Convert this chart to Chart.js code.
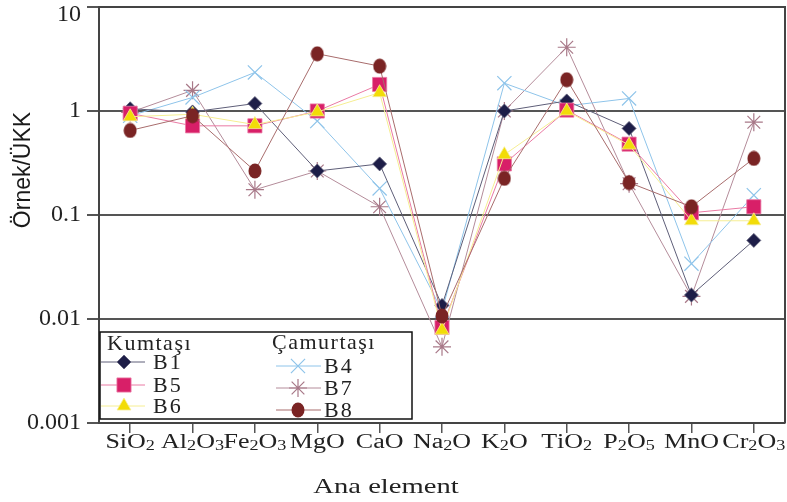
<!DOCTYPE html>
<html>
<head>
<meta charset="utf-8">
<script src="https://cdn.jsdelivr.net/npm/chart.js@4/dist/chart.umd.min.js"></script>
<style>
  html, body { margin: 0; padding: 0; background: #fff; }
  #wrap { width: 787px; height: 502px; }
</style>
</head>
<body>
<div id="wrap"><canvas id="chart" width="787" height="502"></canvas></div>
<script>
// ---- data ----
const categories = ['SiO₂', 'Al₂O₃', 'Fe₂O₃', 'MgO', 'CaO', 'Na₂O', 'K₂O', 'TiO₂', 'P₂O₅', 'MnO', 'Cr₂O₃'];
const yTicks = [0.001, 0.01, 0.1, 1, 10];

// Kumtaşı
const b1 = [1.05, 0.98, 1.18, 0.265, 0.31, 0.0135, 1.0, 1.25, 0.68, 0.017, 0.057];
const b5 = [0.95, 0.72, 0.72, 1.0, 1.8, 0.0083, 0.31, 1.02, 0.48, 0.105, 0.12];
const b6 = [0.88, 0.93, 0.74, 0.98, 1.5, 0.0078, 0.38, 1.0, 0.47, 0.088, 0.088];
// Çamurtaşı
const b4 = [0.9, 1.35, 2.35, 0.8, 0.18, 0.012, 1.85, 1.12, 1.32, 0.034, 0.155];
const b7 = [0.97, 1.58, 0.175, 0.265, 0.12, 0.0054, 1.0, 4.1, 0.2, 0.0165, 0.78];
const b8 = [0.65, 0.9, 0.265, 3.55, 2.7, 0.0107, 0.225, 2.0, 0.205, 0.12, 0.35];

const SERIF = '"Liberation Serif", "Times New Roman", serif';
const SANS = '"Liberation Sans", Arial, sans-serif';

// markers may hang over the frame like in the source, so no extra padding for them
Chart.LineController.prototype.getMaxOverflow = function () { return 0; };

// B8 uses a slightly tall oval marker
function ovalMarker(w, h, fill) {
  const c = document.createElement('canvas');
  c.width = w; c.height = h;
  const g = c.getContext('2d');
  g.fillStyle = fill;
  g.beginPath();
  g.ellipse(w / 2, h / 2, w / 2 - 0.5, h / 2 - 0.5, 0, 0, Math.PI * 2);
  g.fill();
  return c;
}
const oval = ovalMarker(14, 16, '#7a2424');

function series(label, data, line, marker, style, radius, order, group) {
  const thin = style === 'crossRot' || style === 'star';
  return {
    label, data, group,
    borderColor: line,
    backgroundColor: marker,
    borderWidth: 1,
    pointStyle: style,
    pointRadius: radius,
    pointHoverRadius: radius,
    pointBorderColor: thin ? marker : line,
    pointBorderWidth: thin ? 1.2 : 0.8,
    pointBackgroundColor: marker,
    tension: 0,
    clip: false,
    order
  };
}

const datasets = [
  series('B1', b1, '#5e5e78', '#1e1e48', 'rectRot', 7, 4, 0),
  series('B5', b5, '#ea7aa4', '#d81f68', 'rect', 10, 3, 0),
  series('B6', b6, '#f6ee92', '#f2dc08', 'triangle', 8, 2, 0),
  series('B4', b4, '#8ec4ea', '#8ec4ea', 'crossRot', 10, 5, 1),
  series('B7', b7, '#b48c9a', '#a87888', 'star', 9, 6, 1),
  series('B8', b8, '#a86c6c', '#7a2424', oval, 8, 1, 1)
];

// text with real subscript digits, stretched horizontally like the source
function drawChem(ctx, text, cx, baseY, size, sx, font) {
  const parts = [...text].map(ch => {
    const code = ch.charCodeAt(0);
    if (code >= 0x2080 && code <= 0x2089) return { t: String(code - 0x2080), sub: true };
    return { t: ch, sub: false };
  });
  let w = 0;
  parts.forEach(p => {
    ctx.font = (p.sub ? Math.round(size * 0.72) : size) + 'px ' + font;
    p.w = ctx.measureText(p.t).width;
    w += p.w;
  });
  ctx.save();
  ctx.translate(cx - (w * sx) / 2, baseY);
  ctx.scale(sx, 1);
  let x = 0;
  parts.forEach(p => {
    ctx.font = (p.sub ? Math.round(size * 0.72) : size) + 'px ' + font;
    ctx.fillText(p.t, x, p.sub ? size * 0.08 : 0);
    x += p.w;
  });
  ctx.restore();
}

const decorations = {
  id: 'decorations',
  beforeDatasetsDraw(chart) {
    const { ctx, chartArea: a } = chart;
    ctx.save();
    ctx.strokeStyle = '#444';
    ctx.lineWidth = 2;
    ctx.beginPath();
    ctx.moveTo(a.left, a.top);
    ctx.lineTo(a.right, a.top);
    ctx.lineTo(a.right, a.bottom);
    ctx.stroke();
    ctx.restore();
  },
  afterDraw(chart) {
    const { ctx } = chart;
    const xs = chart.scales.x;
    const ys = chart.scales.y;
    ctx.save();
    ctx.fillStyle = '#222';
    ctx.textAlign = 'left';
    ctx.textBaseline = 'alphabetic';

    // category labels
    categories.forEach((c, i) => {
      drawChem(ctx, c, xs.getPixelForValue(i), 448, 20, 1.3, SERIF);
    });
    // x title
    drawChem(ctx, 'Ana element', 386, 493, 22, 1.3, SERIF);

    // y tick labels (kept inside the canvas at the ends)
    ctx.save();
    ctx.textAlign = 'right';
    ctx.textBaseline = 'middle';
    ctx.font = '24px ' + SERIF;
    yTicks.forEach(v => {
      const py = Math.min(Math.max(ys.getPixelForValue(v), 15), 427);
      ctx.fillText(String(v), 81, py);
    });
    ctx.restore();

    // y title
    ctx.save();
    ctx.translate(30, 170);
    ctx.rotate(-Math.PI / 2);
    ctx.textAlign = 'center';
    ctx.font = '23px ' + SANS;
    ctx.fillStyle = '#1a1a1a';
    ctx.fillText('Örnek/ÜKK', 0, 0);
    ctx.restore();

    // legend box
    const L = { x: 100, y: 332, w: 312, h: 87 };
    ctx.fillStyle = '#fff';
    ctx.fillRect(L.x, L.y, L.w, L.h);
    ctx.strokeStyle = '#111';
    ctx.lineWidth = 1.5;
    ctx.strokeRect(L.x, L.y, L.w, L.h);

    ctx.fillStyle = '#222';
    ctx.textBaseline = 'alphabetic';
    ctx.font = '22px ' + SERIF;
    if ('letterSpacing' in ctx) ctx.letterSpacing = '1.5px';
    ctx.fillText('Kumtaşı', 107, 350);
    ctx.fillText('Çamurtaşı', 272, 349);
    if ('letterSpacing' in ctx) ctx.letterSpacing = '2px';

    const cols = [
      { x0: 101, x1: 145, mx: 124, tx: 153, ys: [362, 385, 406] },
      { x0: 276, x1: 321, mx: 298, tx: 324, ys: [366, 388, 410] }
    ];
    [0, 1].forEach(g => {
      const col = cols[g];
      datasets.filter(d => d.group === g).forEach((d, k) => {
        const y = col.ys[k];
        ctx.strokeStyle = d.borderColor;
        ctx.lineWidth = 1;
        ctx.beginPath();
        ctx.moveTo(col.x0, y);
        ctx.lineTo(col.x1, y);
        ctx.stroke();
        ctx.fillStyle = d.pointBackgroundColor;
        ctx.strokeStyle = d.pointBorderColor;
        ctx.lineWidth = d.pointBorderWidth;
        Chart.helpers.drawPoint(ctx, {
          pointStyle: d.pointStyle,
          radius: d.pointRadius,
          rotation: 0,
          borderWidth: d.pointBorderWidth
        }, col.mx, y);
        ctx.fillStyle = '#222';
        ctx.font = '22px ' + SERIF;
        ctx.textBaseline = 'middle';
        ctx.fillText(d.label, col.tx, y + 1);
        ctx.textBaseline = 'alphabetic';
      });
    });
    ctx.restore();
  }
};

new Chart(document.getElementById('chart'), {
  type: 'line',
  data: { labels: categories, datasets },
  options: {
    responsive: false,
    animation: false,
    layout: { padding: { top: 7, right: 2, left: 0, bottom: 0 } },
    plugins: {
      legend: { display: false },
      tooltip: { enabled: false },
      title: { display: false }
    },
    scales: {
      x: {
        type: 'category',
        offset: true,
        afterFit: s => { s.height = 79; s.paddingLeft = 0; s.paddingRight = 0; },
        grid: {
          display: true,
          drawOnChartArea: false,
          drawTicks: true,
          tickLength: 10,
          color: '#555',
          lineWidth: 1.5
        },
        border: { display: true, color: '#444', width: 2 },
        ticks: { display: false, autoSkip: false, maxRotation: 0 }
      },
      y: {
        type: 'logarithmic',
        min: 0.001,
        max: 10,
        afterFit: s => { s.width = 99; s.paddingTop = 0; s.paddingBottom = 0; },
        afterBuildTicks: s => { s.ticks = yTicks.map(v => ({ value: v })); },
        grid: {
          color: '#555',
          lineWidth: 2,
          drawTicks: true,
          tickLength: 12
        },
        border: { display: true, color: '#444', width: 2 },
        ticks: { display: false }
      }
    }
  },
  plugins: [decorations]
});
</script>
</body>
</html>
